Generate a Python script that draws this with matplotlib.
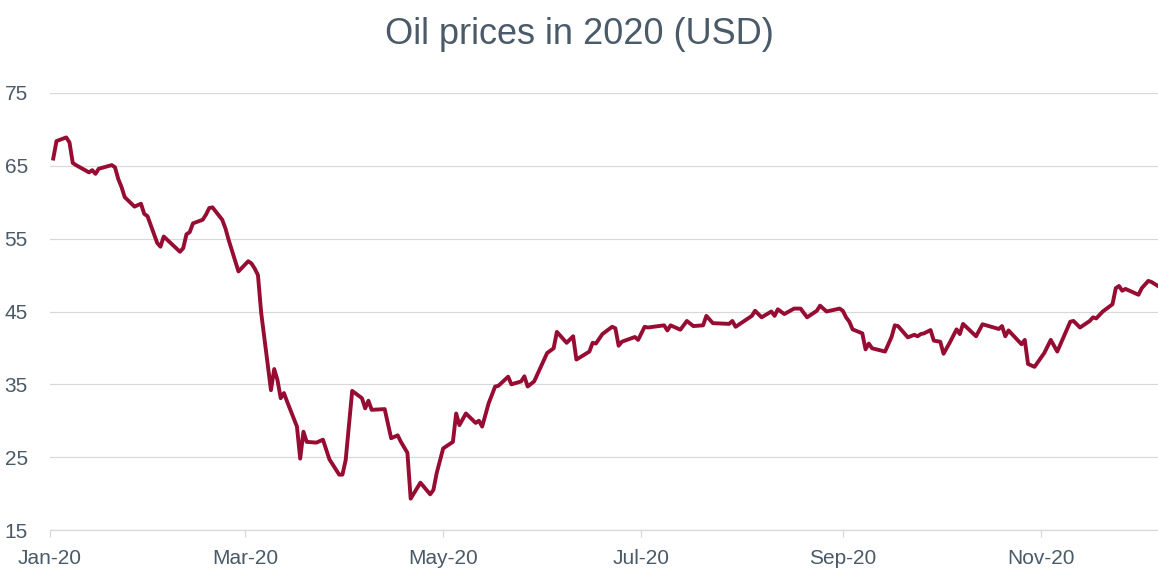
import pandas as pd
import matplotlib
matplotlib.use("Agg")
import matplotlib.pyplot as plt
import matplotlib.dates as mdates

# Daily oil price (USD)
dates = [
    "2020-01-02", "2020-01-03", "2020-01-06", "2020-01-07", "2020-01-08", "2020-01-09",
    "2020-01-13", "2020-01-14", "2020-01-15", "2020-01-16", "2020-01-20", "2020-01-21",
    "2020-01-22", "2020-01-23", "2020-01-24", "2020-01-27", "2020-01-29", "2020-01-30",
    "2020-01-31", "2020-02-03", "2020-02-04", "2020-02-05", "2020-02-10", "2020-02-11",
    "2020-02-12", "2020-02-13", "2020-02-14", "2020-02-17", "2020-02-18", "2020-02-19",
    "2020-02-20", "2020-02-23", "2020-02-24", "2020-02-25", "2020-02-28", "2020-03-02",
    "2020-03-03", "2020-03-04", "2020-03-05", "2020-03-06", "2020-03-09", "2020-03-10",
    "2020-03-11", "2020-03-12", "2020-03-13", "2020-03-14", "2020-03-17", "2020-03-18",
    "2020-03-19", "2020-03-20", "2020-03-23", "2020-03-25", "2020-03-27", "2020-03-30",
    "2020-03-31", "2020-04-01", "2020-04-03", "2020-04-06", "2020-04-07", "2020-04-08",
    "2020-04-09", "2020-04-13", "2020-04-15", "2020-04-17", "2020-04-18", "2020-04-20",
    "2020-04-21", "2020-04-24", "2020-04-27", "2020-04-28", "2020-04-29", "2020-05-01",
    "2020-05-04", "2020-05-05", "2020-05-06", "2020-05-08", "2020-05-11", "2020-05-12",
    "2020-05-13", "2020-05-15", "2020-05-17", "2020-05-18", "2020-05-21", "2020-05-22",
    "2020-05-25", "2020-05-26", "2020-05-27", "2020-05-29", "2020-06-02", "2020-06-04",
    "2020-06-05", "2020-06-08", "2020-06-10", "2020-06-11", "2020-06-15", "2020-06-16",
    "2020-06-17", "2020-06-19", "2020-06-22", "2020-06-23", "2020-06-24", "2020-06-25",
    "2020-06-29", "2020-06-30", "2020-07-02", "2020-07-03", "2020-07-08", "2020-07-09",
    "2020-07-10", "2020-07-13", "2020-07-15", "2020-07-17", "2020-07-20", "2020-07-21",
    "2020-07-23", "2020-07-28", "2020-07-29", "2020-07-30", "2020-08-01", "2020-08-04",
    "2020-08-05", "2020-08-07", "2020-08-10", "2020-08-11", "2020-08-12", "2020-08-14",
    "2020-08-17", "2020-08-19", "2020-08-21", "2020-08-24", "2020-08-25", "2020-08-27",
    "2020-08-31", "2020-09-01", "2020-09-02", "2020-09-03", "2020-09-04", "2020-09-07",
    "2020-09-08", "2020-09-09", "2020-09-10", "2020-09-14", "2020-09-16", "2020-09-17",
    "2020-09-18", "2020-09-21", "2020-09-23", "2020-09-24", "2020-09-25", "2020-09-26",
    "2020-09-28", "2020-09-29", "2020-10-01", "2020-10-02", "2020-10-04", "2020-10-06",
    "2020-10-07", "2020-10-08", "2020-10-12", "2020-10-14", "2020-10-19", "2020-10-20",
    "2020-10-21", "2020-10-22", "2020-10-26", "2020-10-27", "2020-10-28", "2020-10-30",
    "2020-11-02", "2020-11-04", "2020-11-06", "2020-11-10", "2020-11-11", "2020-11-13",
    "2020-11-16", "2020-11-17", "2020-11-18", "2020-11-20", "2020-11-23", "2020-11-24",
    "2020-11-25", "2020-11-26", "2020-11-27", "2020-12-01", "2020-12-02", "2020-12-04",
    "2020-12-05", "2020-12-07",
]
prices = [
    66.0, 68.4, 68.9, 68.2, 65.4, 65.1,
    64.1, 64.4, 63.9, 64.6, 65.1, 64.8,
    63.2, 62.1, 60.7, 59.4, 59.8, 58.4,
    58.1, 54.4, 53.9, 55.3, 53.2, 53.7,
    55.6, 55.9, 57.1, 57.6, 58.3, 59.2,
    59.3, 57.6, 56.4, 54.8, 50.5, 51.9,
    51.6, 50.9, 50.0, 44.8, 34.2, 37.1,
    35.6, 33.1, 33.8, 32.6, 29.2, 24.8,
    28.5, 27.1, 27.0, 27.4, 24.7, 22.6,
    22.6, 24.6, 34.1, 33.1, 31.7, 32.75,
    31.5, 31.6, 27.6, 28.0, 27.1, 25.6,
    19.3, 21.5, 19.9, 20.5, 22.8, 26.2,
    27.1, 31.0, 29.4, 31.0, 29.7, 30.0,
    29.2, 32.4, 34.7, 34.8, 36.05, 35.0,
    35.4, 36.1, 34.7, 35.4, 39.3, 39.95,
    42.2, 40.7, 41.6, 38.4, 39.5, 40.7,
    40.6, 41.9, 42.9, 42.7, 40.3, 40.85,
    41.5, 41.1, 42.9, 42.8, 43.1, 42.4,
    43.1, 42.5, 43.7, 43.0, 43.1, 44.4,
    43.4, 43.3, 43.7, 42.9, 43.5, 44.4,
    45.1, 44.2, 45.0, 44.4, 45.3, 44.65,
    45.4, 45.4, 44.2, 45.1, 45.8, 45.0,
    45.4, 45.1, 44.2, 43.6, 42.55, 42.0,
    39.8, 40.6, 39.95, 39.5, 41.5, 43.1,
    43.0, 41.45, 41.8, 41.6, 41.9, 42.0,
    42.45, 41.0, 40.85, 39.2, 40.8, 42.55,
    41.9, 43.3, 41.6, 43.25, 42.6, 43.0,
    41.6, 42.4, 40.5, 41.1, 37.8, 37.4,
    39.3, 41.1, 39.5, 43.6, 43.7, 42.8,
    43.7, 44.2, 44.05, 45.0, 46.0, 48.2,
    48.5, 47.85, 48.1, 47.3, 48.2, 49.2,
    49.05, 48.5,
]
y_ticks = [15, 25, 35, 45, 55, 65, 75]

text_color = "#4a5a68"
grid_color = "#d9d9d9"
line_color = "#960c32"

plt.rcParams["font.family"] = ["Liberation Sans", "DejaVu Sans"]

x = pd.to_datetime(dates)

fig = plt.figure(figsize=(11.58, 5.76), dpi=100)
ax = fig.add_axes([50 / 1158, 1 - 530 / 576, 1 - 50 / 1158, (530 - 93) / 576])

ax.plot(x, prices, color=line_color, linewidth=2.8, solid_joinstyle="round", zorder=3)

ax.set_ylim(15, 75)
ax.set_yticks(y_ticks)
ax.set_xlim(pd.Timestamp("2020-01-01"), x[-1])
ax.xaxis.set_major_locator(mdates.MonthLocator(bymonth=[1, 3, 5, 7, 9, 11]))
ax.xaxis.set_major_formatter(mdates.DateFormatter("%b-%y"))

ax.grid(axis="y", color=grid_color, linewidth=0.9)
ax.set_axisbelow(True)
for side in ["top", "right", "left"]:
    ax.spines[side].set_visible(False)
ax.spines["bottom"].set_color(grid_color)
ax.spines["bottom"].set_linewidth(0.9)

ax.tick_params(axis="y", length=0, pad=16, labelsize=15, labelcolor=text_color)
ax.tick_params(axis="x", length=5, width=0.9, color=grid_color, pad=9,
               labelsize=15, labelcolor=text_color)

fig.text(0.5, 1 - 35 / 576, "Oil prices in 2020 (USD)", ha="center", va="center",
         fontsize=26, color=text_color)

fig.savefig("out.png", dpi=100)
